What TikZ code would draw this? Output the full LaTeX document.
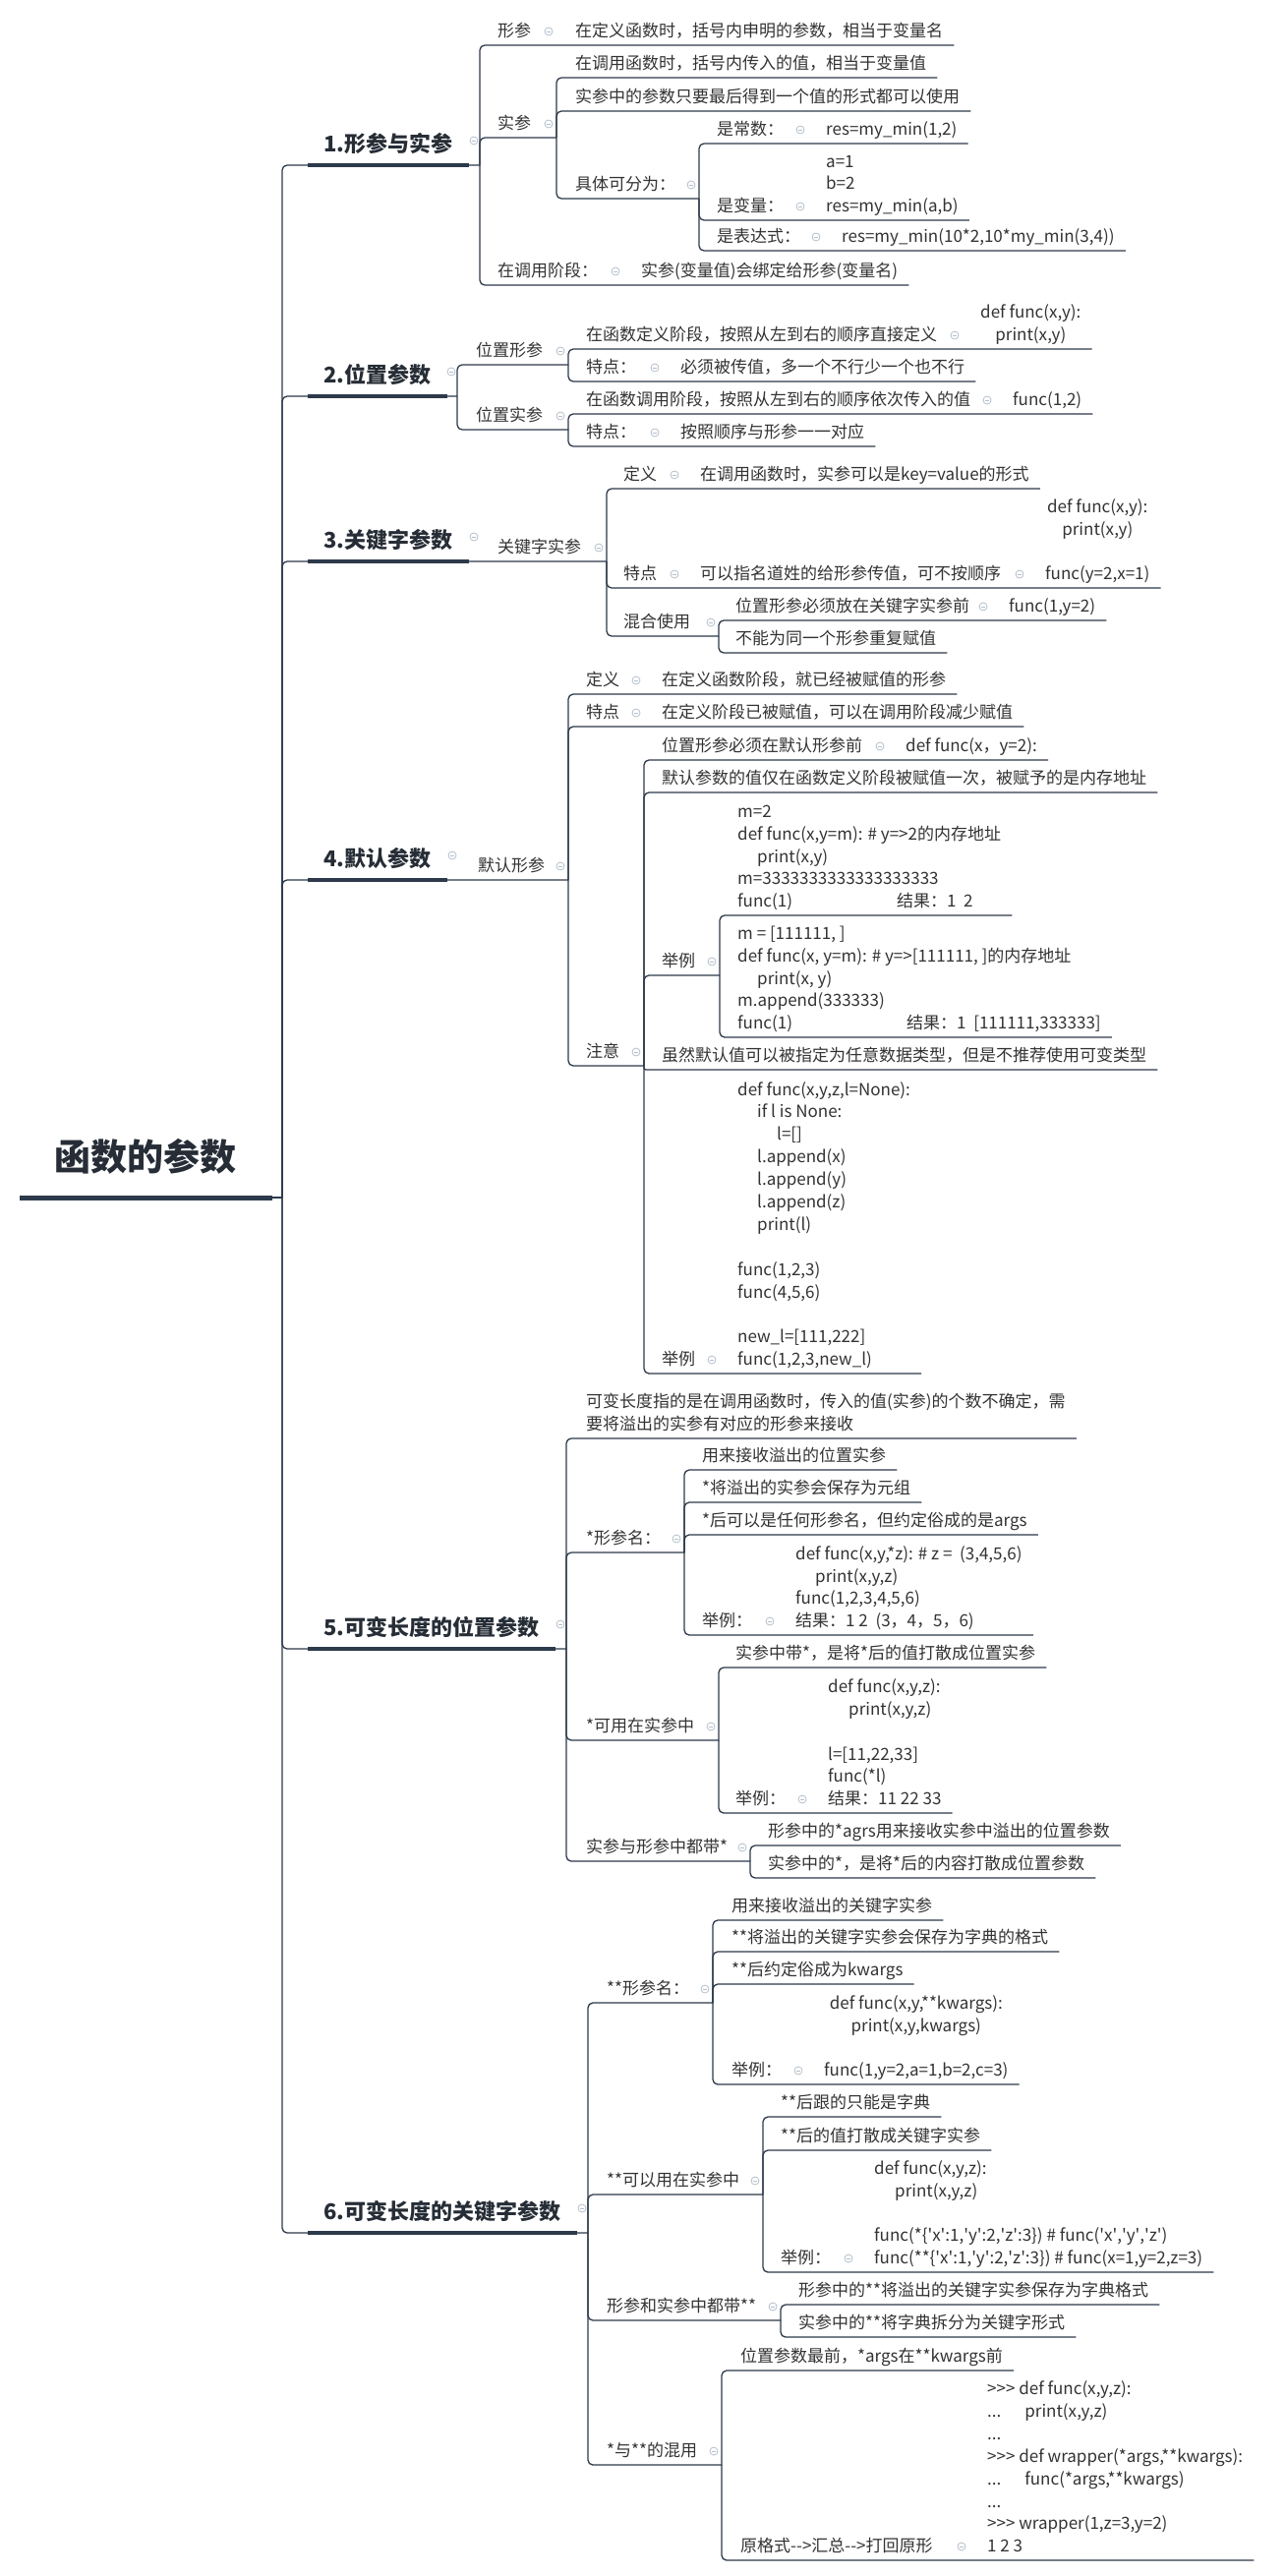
\documentclass[tikz,border=0pt]{standalone}
\usepackage{fontspec}
\setmainfont{Noto Sans CJK SC}
\usepackage{tikz}

\newcommand{\tpfont}{\fontsize{17}{22.9}\selectfont}
\newcommand{\secfont}{\fontsize{22}{26}\selectfont\bfseries}
\newcommand{\rootfont}{\fontsize{37}{44}\selectfont\bfseries}
\newcommand{\qt}{\textquotesingle}

\begin{document}
\begin{tikzpicture}[x=1pt, y=-1pt,
  tp/.style={anchor=south west, inner xsep=0pt, inner ysep=6pt, text depth=2pt,
    align=left, font=\tpfont, text=txtGray},
  cd/.style={tp, align=center},
  sec/.style={anchor=south west, inner xsep=0pt, inner ysep=11pt, text depth=2pt,
    font=\secfont, text=titleDark},
  ln/.style={draw=lineDark, line width=1.3pt, rounded corners=5pt},
  bar/.style={draw=lineDark, line width=3.6pt},
  ic/.style={circle, draw=iconGray, line width=0.8pt, minimum size=8pt, inner sep=0pt,
    path picture={\draw[iconGray, line width=0.8pt]
      ([xshift=-2.3pt]path picture bounding box.center) --
      ([xshift=2.3pt]path picture bounding box.center);}}]

% Colori
\definecolor{lineDark}{HTML}{2D3A4B}
\definecolor{txtGray}{HTML}{333333}
\definecolor{titleDark}{HTML}{262D36}
\definecolor{iconGray}{HTML}{B4BFCC}

\fill[white] (0,0) rectangle (1307,2620);
\useasboundingbox (0,0) rectangle (1307,2620);

% 函数的参数
\node[anchor=south west, inner xsep=0pt, inner ysep=25pt, text depth=2pt,
  font=\rootfont, text=titleDark] (root) at (55,1218) {函数的参数};
\coordinate (rj) at (287,1218);

% 1.形参与实参
\node[sec] (s1) at (329,168) {1.形参与实参};
\node[ic] (s1i) at (482,143) {};
\coordinate (s1j) at (488,168);
\node[tp] (a1) at (506,46) {形参};
\node[ic] (a1i) at (558,32) {};
\coordinate (a1j) at (566,46);
\node[tp] (a1a) at (585,46) {在定义函数时，括号内申明的参数，相当于变量名};
\node[tp] (a2) at (506,140) {实参};
\node[ic] (a2i) at (558,126) {};
\coordinate (a2j) at (566,140);
\node[tp] (a2a) at (585,79) {在调用函数时，括号内传入的值，相当于变量值};
\node[tp] (a2b) at (585,113) {实参中的参数只要最后得到一个值的形式都可以使用};
\node[tp] (a2c) at (585,202) {具体可分为：};
\node[ic] (a2ci) at (703,188) {};
\coordinate (a2cj) at (711,202);
\node[tp] (a2c1) at (729,146) {是常数：};
\node[ic] (a2c1i) at (814,132) {};
\coordinate (a2c1j) at (822,146);
\node[tp] (a2c1a) at (840,146) {res=my\_min(1,2)};
\node[tp] (a2c2) at (729,224) {是变量：};
\node[ic] (a2c2i) at (814,210) {};
\coordinate (a2c2j) at (822,224);
\node[tp] (a2c2a) at (840,224) {a=1\\b=2\\res=my\_min(a,b)};
\node[tp] (a2c3) at (729,255) {是表达式：};
\node[ic] (a2c3i) at (830,241) {};
\coordinate (a2c3j) at (838,255);
\node[tp] (a2c3a) at (856,255) {res=my\_min(10*2,10*my\_min(3,4))};
\node[tp] (a3) at (506,290) {在调用阶段：};
\node[ic] (a3i) at (626,276) {};
\coordinate (a3j) at (634,290);
\node[tp] (a3a) at (652,290) {实参(变量值)会绑定给形参(变量名)};

\draw[ln] (rj) -- (rj |- s1.south) -- (s1j);
\draw[ln] (s1j) -- (s1j |- a1.south) -- (a1j) -- ([xshift=11pt]a1a.south east);
\draw[ln] (s1j) -- (s1j |- a2.south) -- (a2j);
\draw[ln] (s1j) -- (s1j |- a3.south) -- (a3j) -- ([xshift=11pt]a3a.south east);
\draw[ln] (a2j) -- (a2j |- a2a.south) -- ([xshift=11pt]a2a.south east);
\draw[ln] (a2j) -- (a2j |- a2b.south) -- ([xshift=11pt]a2b.south east);
\draw[ln] (a2j) -- (a2j |- a2c.south) -- (a2cj);
\draw[ln] (a2cj) -- (a2cj |- a2c1.south) -- (a2c1j) -- ([xshift=11pt]a2c1a.south east);
\draw[ln] (a2cj) -- (a2cj |- a2c2.south) -- (a2c2j) -- ([xshift=11pt]a2c2a.south east);
\draw[ln] (a2cj) -- (a2cj |- a2c3.south) -- (a2c3j) -- ([xshift=11pt]a2c3a.south east);

% 2.位置参数
\node[sec] (s2) at (329,403) {2.位置参数};
\node[ic] (s2i) at (459,378) {};
\coordinate (s2j) at (465,403);
\node[tp] (b1) at (484,371) {位置形参};
\node[ic] (b1i) at (570,357) {};
\coordinate (b1j) at (578,371);
\node[tp] (b1a) at (596,355) {在函数定义阶段，按照从左到右的顺序直接定义};
\node[ic] (b1ai) at (971,341) {};
\coordinate (b1aj) at (979,355);
\node[cd] (b1a1) at (997,355) {def func(x,y):\\print(x,y)};
\node[tp] (b1b) at (596,388) {特点：};
\node[ic] (b1bi) at (666,374) {};
\coordinate (b1bj) at (674,388);
\node[tp] (b1b1) at (692,388) {必须被传值，多一个不行少一个也不行};
\node[tp] (b2) at (484,437) {位置实参};
\node[ic] (b2i) at (570,423) {};
\coordinate (b2j) at (578,437);
\node[tp] (b2a) at (596,421) {在函数调用阶段，按照从左到右的顺序依次传入的值};
\node[ic] (b2ai) at (1004,407) {};
\coordinate (b2aj) at (1012,421);
\node[tp] (b2a1) at (1030,421) {func(1,2)};
\node[tp] (b2b) at (596,454) {特点：};
\node[ic] (b2bi) at (666,440) {};
\coordinate (b2bj) at (674,454);
\node[tp] (b2b1) at (692,454) {按照顺序与形参一一对应};

\draw[ln] (rj) -- (rj |- s2.south) -- (s2j);
\draw[ln] (s2j) -- (s2j |- b1.south) -- (b1j);
\draw[ln] (s2j) -- (s2j |- b2.south) -- (b2j);
\draw[ln] (b1j) -- (b1j |- b1a.south) -- (b1aj) -- ([xshift=11pt]b1a1.south east);
\draw[ln] (b1j) -- (b1j |- b1b.south) -- (b1bj) -- ([xshift=11pt]b1b1.south east);
\draw[ln] (b2j) -- (b2j |- b2a.south) -- (b2aj) -- ([xshift=11pt]b2a1.south east);
\draw[ln] (b2j) -- (b2j |- b2b.south) -- (b2bj) -- ([xshift=11pt]b2b1.south east);

% 3.关键字参数
\node[sec] (s3) at (329,571) {3.关键字参数};
\node[ic] (s3i) at (482,546) {};
\coordinate (s3j) at (488,571);
\node[tp] (c1) at (506,571) {关键字实参};
\node[ic] (c1i) at (609,557) {};
\coordinate (c1j) at (617,571);
\node[tp] (c1a) at (634,497) {定义};
\node[ic] (c1ai) at (686,483) {};
\coordinate (c1aj) at (694,497);
\node[tp] (c1a1) at (712,497) {在调用函数时，实参可以是key=value的形式};
\node[tp] (c1b) at (634,598) {特点};
\node[ic] (c1bi) at (686,584) {};
\coordinate (c1bj) at (694,598);
\node[tp] (c1b1) at (712,598) {可以指名道姓的给形参传值，可不按顺序};
\node[ic] (c1b1i) at (1037,584) {};
\coordinate (c1b1j) at (1045,598);
\node[cd] (c1b1a) at (1063,598) {def func(x,y):\\print(x,y)\\ \mbox{}\\func(y=2,x=1)};
\node[tp] (c1c) at (634,647) {混合使用};
\node[ic] (c1ci) at (723,633) {};
\coordinate (c1cj) at (731,647);
\node[tp] (c1c1) at (748,631) {位置形参必须放在关键字实参前};
\node[ic] (c1c1i) at (1000,617) {};
\coordinate (c1c1j) at (1008,631);
\node[tp] (c1c1a) at (1026,631) {func(1,y=2)};
\node[tp] (c1c2) at (748,664) {不能为同一个形参重复赋值};

\draw[ln] (rj) -- (rj |- s3.south) -- (s3j) -- (c1j);
\draw[ln] (c1j) -- (c1j |- c1a.south) -- (c1aj) -- ([xshift=11pt]c1a1.south east);
\draw[ln] (c1j) -- (c1j |- c1b.south) -- (c1bj) -- (c1b1j) -- ([xshift=11pt]c1b1a.south east);
\draw[ln] (c1j) -- (c1j |- c1c.south) -- (c1cj);
\draw[ln] (c1cj) -- (c1cj |- c1c1.south) -- (c1c1j) -- ([xshift=11pt]c1c1a.south east);
\draw[ln] (c1cj) -- (c1cj |- c1c2.south) -- ([xshift=11pt]c1c2.south east);

% 4.默认参数
\node[sec] (s4) at (329,895) {4.默认参数};
\node[ic] (s4i) at (460,870) {};
\coordinate (s4j) at (468,895);
\node[tp] (d1) at (486,895) {默认形参};
\node[ic] (d1i) at (570,881) {};
\coordinate (d1j) at (578,895);
\node[tp] (d1a) at (596,706) {定义};
\node[ic] (d1ai) at (647,692) {};
\coordinate (d1aj) at (655,706);
\node[tp] (d1a1) at (673,706) {在定义函数阶段，就已经被赋值的形参};
\node[tp] (d1b) at (596,739) {特点};
\node[ic] (d1bi) at (647,725) {};
\coordinate (d1bj) at (655,739);
\node[tp] (d1b1) at (673,739) {在定义阶段已被赋值，可以在调用阶段减少赋值};
\node[tp] (d1c) at (596,1084) {注意};
\node[ic] (d1ci) at (647,1070) {};
\coordinate (d1cj) at (655,1084);
\node[tp] (d1c1) at (673,773) {位置形参必须在默认形参前};
\node[ic] (d1c1i) at (895,759) {};
\coordinate (d1c1j) at (903,773);
\node[tp] (d1c1a) at (921,773) {def func(x，y=2):};
\node[tp] (d1c2) at (673,806) {默认参数的值仅在函数定义阶段被赋值一次，被赋予的是内存地址};
\node[tp] (d1c3) at (673,992) {举例};
\node[ic] (d1c3i) at (724,978) {};
\coordinate (d1c3j) at (732,992);
\node[tp] (d1c3a) at (750,931) {m=2\\def func(x,y=m): \# y=>2的内存地址\\\hspace*{20pt}print(x,y)\\m=3333333333333333333\\\makebox[162pt][l]{func(1)}结果：1 \ 2};
\node[tp] (d1c3b) at (750,1055) {m = [111111, ]\\def func(x, y=m): \# y=>[111111, ]的内存地址\\\hspace*{20pt}print(x, y)\\m.append(333333)\\\makebox[172pt][l]{func(1)}结果：1 \ [111111,333333]};
\node[tp] (d1c4) at (673,1088) {虽然默认值可以被指定为任意数据类型，但是不推荐使用可变类型};
\node[tp] (d1c5) at (673,1397) {举例};
\node[ic] (d1c5i) at (724,1383) {};
\coordinate (d1c5j) at (732,1397);
\node[tp] (d1c5a) at (750,1397) {def func(x,y,z,l=None):\\\hspace*{20pt}if l is None:\\\hspace*{40pt}l=[]\\\hspace*{20pt}l.append(x)\\\hspace*{20pt}l.append(y)\\\hspace*{20pt}l.append(z)\\\hspace*{20pt}print(l)\\ \mbox{}\\func(1,2,3)\\func(4,5,6)\\ \mbox{}\\new\_l=[111,222]\\func(1,2,3,new\_l)};

\draw[ln] (rj) -- (rj |- s4.south) -- (s4j) -- (d1j);
\draw[ln] (d1j) -- (d1j |- d1a.south) -- (d1aj) -- ([xshift=11pt]d1a1.south east);
\draw[ln] (d1j) -- (d1j |- d1b.south) -- (d1bj) -- ([xshift=11pt]d1b1.south east);
\draw[ln] (d1j) -- (d1j |- d1c.south) -- (d1cj);
\draw[ln] (d1cj) -- (d1cj |- d1c1.south) -- (d1c1j) -- ([xshift=11pt]d1c1a.south east);
\draw[ln] (d1cj) -- (d1cj |- d1c2.south) -- ([xshift=11pt]d1c2.south east);
\draw[ln] (d1cj) -- (d1cj |- d1c3.south) -- (d1c3j);
\draw[ln] (d1c3j) -- (d1c3j |- d1c3a.south) -- ([xshift=11pt]d1c3a.south east);
\draw[ln] (d1c3j) -- (d1c3j |- d1c3b.south) -- ([xshift=11pt]d1c3b.south east);
\draw[ln, rounded corners=2pt] (d1cj) -- (d1cj |- d1c4.south) -- ([xshift=11pt]d1c4.south east);
\draw[ln] (d1cj) -- (d1cj |- d1c5.south) -- (d1c5j) -- ([xshift=11pt]d1c5a.south east);

% 5.可变长度的位置参数
\node[sec] (s5) at (329,1677) {5.可变长度的位置参数};
\node[ic] (s5i) at (570,1652) {};
\coordinate (s5j) at (576,1677);
\node[tp] (e1) at (596,1463) {可变长度指的是在调用函数时，传入的值(实参)的个数不确定，需\\要将溢出的实参有对应的形参来接收};
\node[tp] (e2) at (596,1579) {*形参名：};
\node[ic] (e2i) at (688,1565) {};
\coordinate (e2j) at (696,1579);
\node[tp] (e2a) at (714,1495) {用来接收溢出的位置实参};
\node[tp] (e2b) at (714,1528) {*将溢出的实参会保存为元组};
\node[tp] (e2c) at (714,1561) {*后可以是任何形参名，但约定俗成的是args};
\node[tp] (e2d) at (714,1663) {举例：};
\node[ic] (e2di) at (783,1649) {};
\coordinate (e2dj) at (791,1663);
\node[tp] (e2d1) at (809,1663) {def func(x,y,*z): \# z = \ (3,4,5,6)\\\hspace*{20pt}print(x,y,z)\\func(1,2,3,4,5,6)\\结果：1 2 \ (3，4，5，6)};
\node[tp] (e3) at (596,1770) {*可用在实参中};
\node[ic] (e3i) at (723,1756) {};
\coordinate (e3j) at (731,1770);
\node[tp] (e3a) at (748,1696) {实参中带*，是将*后的值打散成位置实参};
\node[tp] (e3b) at (748,1844) {举例：};
\node[ic] (e3bi) at (816,1830) {};
\coordinate (e3bj) at (824,1844);
\node[tp] (e3b1) at (842,1844) {def func(x,y,z):\\\hspace*{21pt}print(x,y,z)\\ \mbox{}\\l=[11,22,33]\\func(*l)\\结果：11 22 33};
\node[tp] (e4) at (596,1893) {实参与形参中都带*};
\node[ic] (e4i) at (755,1879) {};
\coordinate (e4j) at (763,1893);
\node[tp] (e4a) at (781,1877) {形参中的*agrs用来接收实参中溢出的位置参数};
\node[tp] (e4b) at (781,1910) {实参中的*，是将*后的内容打散成位置参数};

\draw[ln] (rj) -- (rj |- s5.south) -- (s5j);
\draw[ln] (s5j) -- (s5j |- e1.south) -- ([xshift=11pt]e1.south east);
\draw[ln] (s5j) -- (s5j |- e2.south) -- (e2j);
\draw[ln] (e2j) -- (e2j |- e2a.south) -- ([xshift=11pt]e2a.south east);
\draw[ln] (e2j) -- (e2j |- e2b.south) -- ([xshift=11pt]e2b.south east);
\draw[ln] (e2j) -- (e2j |- e2c.south) -- ([xshift=11pt]e2c.south east);
\draw[ln] (e2j) -- (e2j |- e2d.south) -- (e2dj) -- ([xshift=11pt]e2d1.south east);
\draw[ln] (s5j) -- (s5j |- e3.south) -- (e3j);
\draw[ln] (e3j) -- (e3j |- e3a.south) -- ([xshift=11pt]e3a.south east);
\draw[ln] (e3j) -- (e3j |- e3b.south) -- (e3bj) -- ([xshift=11pt]e3b1.south east);
\draw[ln] (s5j) -- (s5j |- e4.south) -- (e4j);
\draw[ln] (e4j) -- (e4j |- e4a.south) -- ([xshift=11pt]e4a.south east);
\draw[ln] (e4j) -- (e4j |- e4b.south) -- ([xshift=11pt]e4b.south east);

% 6.可变长度的关键字参数
\node[sec] (s6) at (329,2271) {6.可变长度的关键字参数};
\node[ic] (s6i) at (592,2246) {};
\coordinate (s6j) at (598,2271);
\node[tp] (f1) at (617,2037) {**形参名：};
\node[ic] (f1i) at (717,2023) {};
\coordinate (f1j) at (725,2037);
\node[tp] (f1a) at (744,1953) {用来接收溢出的关键字实参};
\node[tp] (f1b) at (744,1985) {**将溢出的关键字实参会保存为字典的格式};
\node[tp] (f1c) at (744,2018) {**后约定俗成为kwargs};
\node[tp] (f1d) at (744,2120) {举例：};
\node[ic] (f1di) at (812,2106) {};
\coordinate (f1dj) at (820,2120);
\node[cd] (f1d1) at (838,2120) {def func(x,y,**kwargs):\\print(x,y,kwargs)\\ \mbox{}\\func(1,y=2,a=1,b=2,c=3)};
\node[tp] (f2) at (617,2232) {**可以用在实参中};
\node[ic] (f2i) at (768,2218) {};
\coordinate (f2j) at (776,2232);
\node[tp] (f2a) at (794,2153) {**后跟的只能是字典};
\node[tp] (f2b) at (794,2187) {**后的值打散成关键字实参};
\node[tp] (f2c) at (794,2311) {举例：};
\node[ic] (f2ci) at (863,2297) {};
\coordinate (f2cj) at (871,2311);
\node[tp] (f2c1) at (889,2311) {def func(x,y,z):\\\hspace*{21pt}print(x,y,z)\\ \mbox{}\\func(*\{\qt x\qt:1,\qt y\qt:2,\qt z\qt:3\}) \# func(\qt x\qt,\qt y\qt,\qt z\qt)\\func(**\{\qt x\qt:1,\qt y\qt:2,\qt z\qt:3\}) \# func(x=1,y=2,z=3)};
\node[tp] (f3) at (617,2360) {形参和实参中都带**};
\node[ic] (f3i) at (786,2346) {};
\coordinate (f3j) at (794,2360);
\node[tp] (f3a) at (812,2344) {形参中的**将溢出的关键字实参保存为字典格式};
\node[tp] (f3b) at (812,2377) {实参中的**将字典拆分为关键字形式};
\node[tp] (f4) at (617,2507) {*与**的混用};
\node[ic] (f4i) at (726,2493) {};
\coordinate (f4j) at (734,2507);
\node[tp] (f4a) at (753,2411) {位置参数最前，*args在**kwargs前};
\node[tp] (f4b) at (753,2604) {原格式-{}->汇总-{}->打回原形};
\node[ic] (f4bi) at (978,2590) {};
\coordinate (f4bj) at (986,2604);
\node[tp] (f4b1) at (1004,2604) {>{}>{}> def func(x,y,z):\\...\hspace*{24pt}print(x,y,z)\\...\\>{}>{}> def wrapper(*args,**kwargs):\\...\hspace*{24pt}func(*args,**kwargs)\\...\\>{}>{}> wrapper(1,z=3,y=2)\\1 2 3};

\draw[ln] (rj) -- (rj |- s6.south) -- (s6j);
\draw[ln] (s6j) -- (s6j |- f1.south) -- (f1j);
\draw[ln] (f1j) -- (f1j |- f1a.south) -- ([xshift=11pt]f1a.south east);
\draw[ln] (f1j) -- (f1j |- f1b.south) -- ([xshift=11pt]f1b.south east);
\draw[ln] (f1j) -- (f1j |- f1c.south) -- ([xshift=11pt]f1c.south east);
\draw[ln] (f1j) -- (f1j |- f1d.south) -- (f1dj) -- ([xshift=11pt]f1d1.south east);
\draw[ln] (s6j) -- (s6j |- f2.south) -- (f2j);
\draw[ln] (f2j) -- (f2j |- f2a.south) -- ([xshift=11pt]f2a.south east);
\draw[ln] (f2j) -- (f2j |- f2b.south) -- ([xshift=11pt]f2b.south east);
\draw[ln] (f2j) -- (f2j |- f2c.south) -- (f2cj) -- ([xshift=11pt]f2c1.south east);
\draw[ln] (s6j) -- (s6j |- f3.south) -- (f3j);
\draw[ln] (f3j) -- (f3j |- f3a.south) -- ([xshift=11pt]f3a.south east);
\draw[ln] (f3j) -- (f3j |- f3b.south) -- ([xshift=11pt]f3b.south east);
\draw[ln] (s6j) -- (s6j |- f4.south) -- (f4j);
\draw[ln] (f4j) -- (f4j |- f4a.south) -- ([xshift=11pt]f4a.south east);
\draw[ln] (f4j) -- (f4j |- f4b.south) -- (f4bj) -- ([xshift=11pt]f4b1.south east);

% Barre spesse
\draw[ln] (root.south west) -- (rj);
\draw[bar, line width=5pt] ([xshift=-35pt]root.south west) -- ([xshift=37pt]root.south east);
\draw[bar] ([xshift=-16pt]s1.south west) -- ([xshift=16pt]s1.south east);
\draw[bar] ([xshift=-16pt]s2.south west) -- ([xshift=16pt]s2.south east);
\draw[bar] ([xshift=-16pt]s3.south west) -- ([xshift=16pt]s3.south east);
\draw[bar] ([xshift=-16pt]s4.south west) -- ([xshift=16pt]s4.south east);
\draw[bar] ([xshift=-16pt]s5.south west) -- ([xshift=16pt]s5.south east);
\draw[bar] ([xshift=-16pt]s6.south west) -- ([xshift=16pt]s6.south east);
\end{tikzpicture}
\end{document}
